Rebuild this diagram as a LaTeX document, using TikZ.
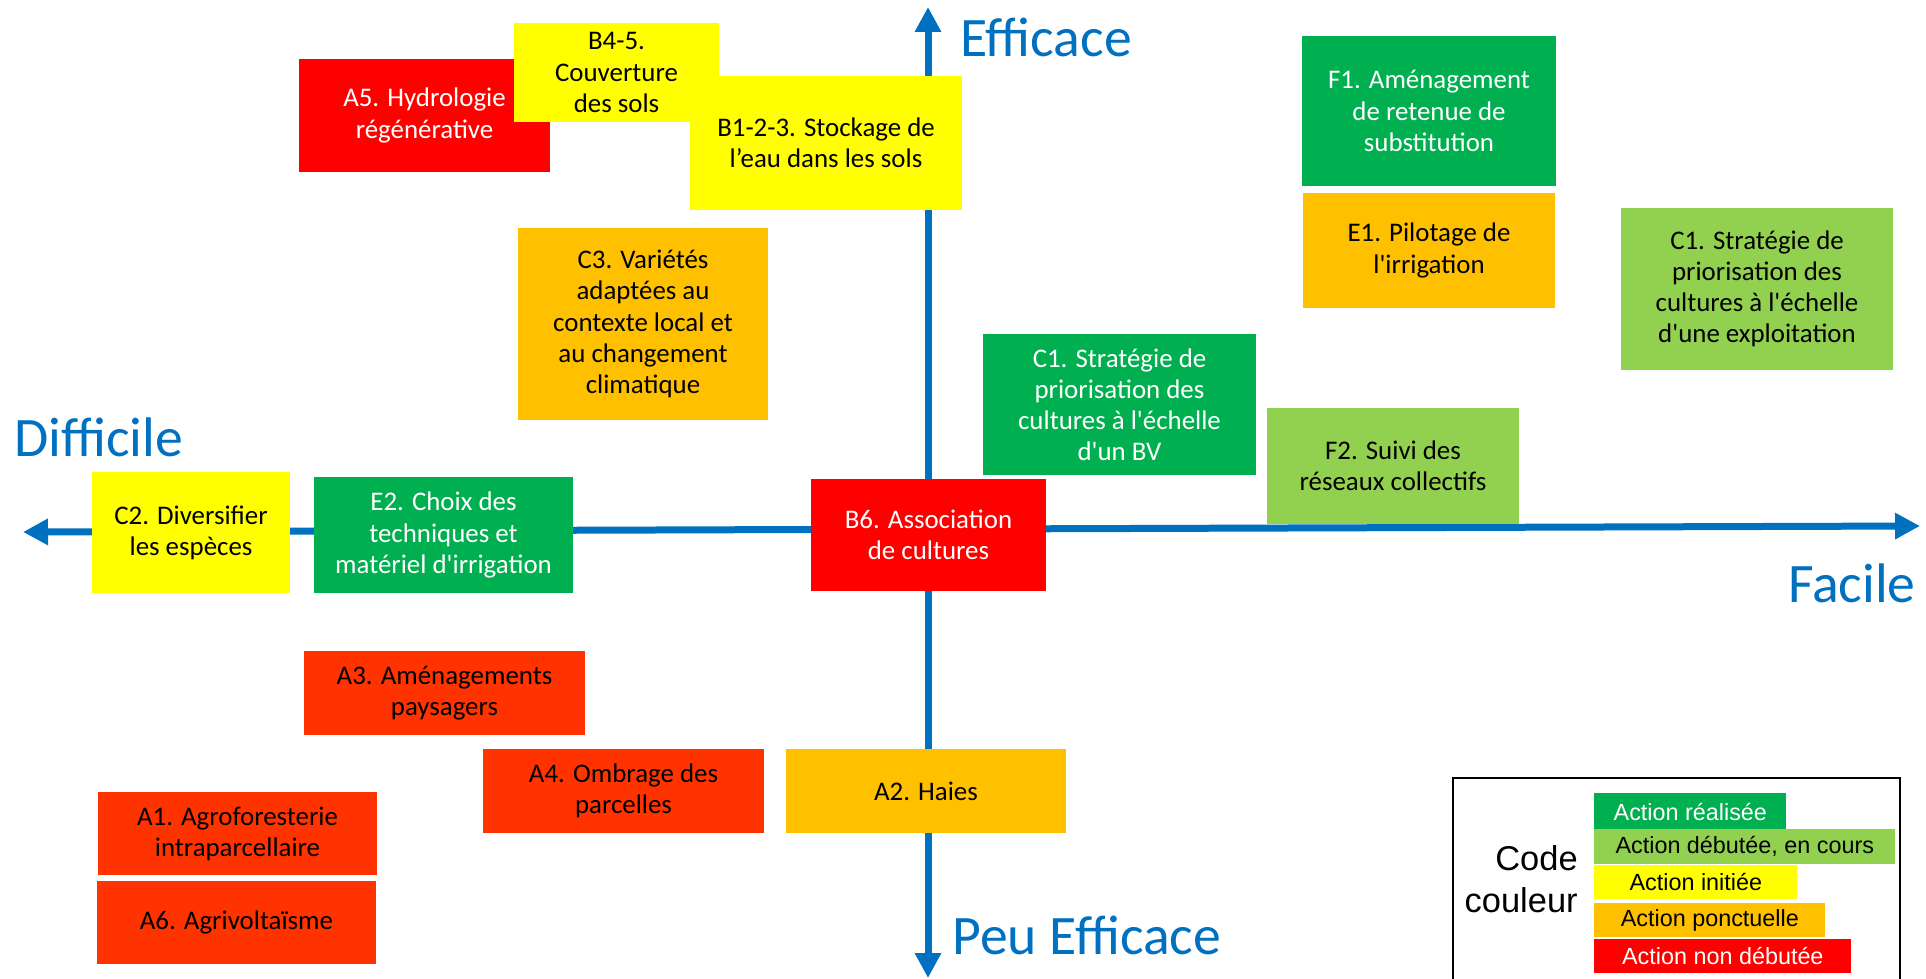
\documentclass[tikz,border=0pt]{standalone}
\usepackage{fontspec}
\usepackage{tikz}
\usetikzlibrary{arrows.meta}
\setmainfont{Carlito}
\newfontfamily\legfont{Liberation Sans}
\definecolor{axisblue}{HTML}{0070C0}
\definecolor{cDone}{HTML}{00B050}
\definecolor{cRunning}{HTML}{92D050}
\definecolor{cStarted}{HTML}{FFFF00}
\definecolor{cPunctual}{HTML}{FFC000}
\definecolor{cNotStarted}{HTML}{FF0000}
\definecolor{cNotStartedB}{HTML}{FF3300}
\newcommand{\boxfont}{\fontsize{15.3}{17.7}\selectfont}
\newcommand{\axfont}{\fontsize{31.7}{38}\selectfont}
\newcommand{\apos}{\textquotesingle}

\begin{document}
\begin{tikzpicture}[x=0.02cm, y=-0.02cm, >={Triangle[length=0.5cm,width=0.5cm]},
		box/.style={rectangle, inner sep=0pt, align=center, font=\boxfont},
		done/.style={box, fill=cDone, text=white},
		running/.style={box, fill=cRunning},
		started/.style={box, fill=cStarted},
		punctual/.style={box, fill=cPunctual},
		notstarted/.style={box, fill=cNotStarted, text=white},
		notstartedB/.style={box, fill=cNotStartedB},
		axis/.style={line width=0.14cm, draw=axisblue},
		axlabel/.style={inner sep=0pt, anchor=base west, text=axisblue, font=\axfont},
		legbar/.style={rectangle, inner sep=0pt, anchor=west, minimum height=0.68cm, font=\legfont\fontsize{13.3}{16}\selectfont}]
			\fill [white] (0,0) rectangle (1926,979);
			\useasboundingbox (0,0) rectangle (1926,979);
			%axes
			\coordinate (top) at (928,7);
			\coordinate (bottom) at (928,978);
			\coordinate (left) at (23,532);
			\coordinate (right) at (1920,526);
			\draw [axis, <->] (left) -- (right);
			\draw [axis, <->] (bottom) -- (top);
			\node at (960,57) (eff) [axlabel] {Efficace};
			\node at (952,954) (peueff) [axlabel] {Peu Efficace};
			\node at (14,457) (diff) [axlabel] {Difficile};
			\node at (1916,602) (fac) [axlabel, anchor=base east] {Facile};

			%actions
			\node at (424.5,115.5) (A5) [notstarted, minimum width=5.02cm, minimum height=2.26cm] {A5. Hydrologie\\régénérative};
			\node at (616.5,72.5) (B45) [started, minimum width=4.10cm, minimum height=1.98cm] {B4-5.\\Couverture\\des sols};
			\node at (826,143) (B123) [started, minimum width=5.44cm, minimum height=2.68cm] {B1-2-3. Stockage de\\l’eau dans les sols};
			\node at (643,324) (C3) [punctual, minimum width=5.00cm, minimum height=3.84cm] {C3. Variétés\\adaptées au\\contexte local et\\au changement\\climatique};
			\node at (1429,111) (F1) [done, minimum width=5.08cm, minimum height=3.00cm] {F1. Aménagement\\de retenue de\\substitution};
			\node at (1429,250.5) (E1) [punctual, minimum width=5.04cm, minimum height=2.30cm] {E1. Pilotage de\\l\apos irrigation};
			\node at (1757,289) (C1expl) [running, minimum width=5.44cm, minimum height=3.24cm] {C1. Stratégie de\\priorisation des\\cultures à l\apos échelle\\d\apos une exploitation};
			\node at (1119.5,404.5) (C1bv) [done, minimum width=5.46cm, minimum height=2.82cm] {C1. Stratégie de\\priorisation des\\cultures à l\apos échelle\\d\apos un BV};
			\node at (1393,466) (F2) [running, minimum width=5.04cm, minimum height=2.32cm] {F2. Suivi des\\réseaux collectifs};
			\node at (191,532.5) (C2) [started, minimum width=3.96cm, minimum height=2.42cm] {C2. Diversifier\\les espèces};
			\node at (443.5,535) (E2) [done, minimum width=5.18cm, minimum height=2.32cm] {E2. Choix des\\techniques et\\matériel d\apos irrigation};
			\node at (928.5,535) (B6) [notstarted, minimum width=4.70cm, minimum height=2.24cm] {B6. Association\\de cultures};
			\node at (444.5,693) (A3) [notstartedB, minimum width=5.62cm, minimum height=1.68cm] {A3. Aménagements\\paysagers};
			\node at (623.5,791) (A4) [notstartedB, minimum width=5.62cm, minimum height=1.68cm] {A4. Ombrage des\\parcelles};
			\node at (926,791) (A2) [punctual, minimum width=5.60cm, minimum height=1.68cm] {A2. Haies};
			\node at (237.5,833.5) (A1) [notstartedB, minimum width=5.58cm, minimum height=1.66cm] {A1. Agroforesterie\\intraparcellaire};
			\node at (236.5,922.5) (A6) [notstartedB, minimum width=5.58cm, minimum height=1.66cm] {A6. Agrivoltaïsme};

			%colour code
			\draw [line width=0.04cm] (1453,778) rectangle (1900,990);
			\node at (1578,879) (code) [anchor=east, inner sep=0pt, align=right, font=\legfont\fontsize{19.6}{23.9}\selectfont] {Code\\couleur};
			\node at (1594,812) (leg1) [legbar, fill=cDone, text=white, minimum width=3.84cm, minimum height=0.76cm] {Action réalisée};
			\node at (1594,846.5) (leg2) [legbar, fill=cRunning, minimum width=6.02cm, minimum height=0.70cm] {Action débutée, en cours};
			\node at (1594,882) (leg3) [legbar, fill=cStarted, minimum width=4.06cm] {Action initiée};
			\node at (1594,920) (leg4) [legbar, fill=cPunctual, minimum width=4.62cm] {Action ponctuelle};
			\node at (1594,956) (leg5) [legbar, fill=cNotStarted, text=white, minimum width=5.14cm] {Action non débutée};
		\end{tikzpicture}
\end{document}
